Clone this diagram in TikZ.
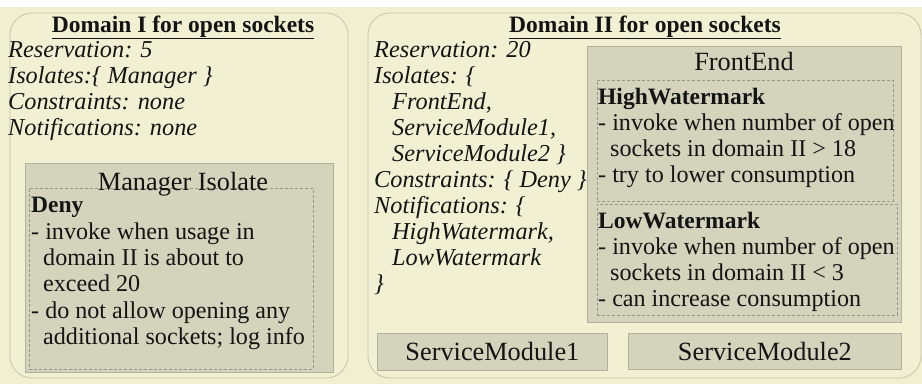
\documentclass[tikz,border=0pt]{standalone}
\usepackage{fontspec}
\setmainfont{Liberation Serif}
\definecolor{bgc}{RGB}{240,239,208}
\definecolor{panelc}{RGB}{241,240,211}
\definecolor{paneledge}{RGB}{196,196,176}
\definecolor{boxc}{RGB}{212,211,188}
\definecolor{boxedge}{RGB}{178,177,156}
\definecolor{dashc}{RGB}{150,150,140}
\definecolor{inkc}{RGB}{20,20,20}
\newcommand\mystrut{\rule{0pt}{22pt}}
\begin{document}
\begin{tikzpicture}[x=1pt,y=-1pt,
  panel/.style={draw=paneledge, fill=panelc, line width=0.8pt, rounded corners=22pt},
  isobox/.style={draw=boxedge, fill=boxc, line width=0.8pt, inner sep=0pt, anchor=north west},
  dashbox/.style={draw=dashc, dash pattern=on 3pt off 2pt, line width=0.6pt, inner sep=0pt, anchor=north west},
  ttl/.style={font=\fontsize{23.5}{26}\selectfont\bfseries, text=inkc, inner sep=0pt, anchor=base},
  itx/.style={font=\fontsize{24.3}{26}\selectfont\itshape, text=inkc, inner sep=0pt, align=left, anchor=north west},
  lbl/.style={font=\fontsize{26.3}{28}\selectfont, text=inkc, inner sep=0pt, anchor=base},
  hdr/.style={font=\fontsize{23.5}{26}\selectfont\bfseries, text=inkc, inner sep=0pt, anchor=base west},
  body/.style={font=\fontsize{24.1}{26.3}\selectfont, text=inkc, inner sep=0pt, align=left, anchor=north west}
]
\useasboundingbox (0,0) rectangle (922,384);
\fill[white] (0,0) rectangle (922,384);
\fill[bgc] (0,7) rectangle (922,384);

% panels
\path[panel] (10,13) rectangle (348,378);
\path[panel] (368,13) rectangle (921,378);

% Domain I
\node[ttl] (t1) at (183,32) {\underline{Domain I for open sockets}};
\node[itx] (d1) at (8,35) {\mystrut Reservation: 5\\Isolates:\{ Manager \}\\Constraints: none\\Notifications: none};

\node[isobox, minimum width=308pt, minimum height=209pt] (mgr) at (25,163) {};
\node[dashbox, minimum width=284pt, minimum height=181pt] (deny) at (29,188) {};
\node[lbl] (mgrt) at (183,190) {Manager Isolate};
\node[hdr] (denyh) at (31,212) {Deny};
\node[body] (denyb) at (31,217) {\mystrut - invoke when usage in\\\hspace*{12pt}domain II is about to\\\hspace*{12pt}exceed 20\\- do not allow opening any\\\hspace*{12pt}additional sockets; log info};

% Domain II
\node[ttl] (t2) at (645,32) {\underline{Domain II for open sockets}};
\node[itx] (d2) at (374,35) {\mystrut Reservation: 20\\Isolates: \{\\\hspace*{18pt}FrontEnd,\\\hspace*{18pt}ServiceModule1,\\\hspace*{18pt}ServiceModule2 \}\\Constraints: \{ Deny \}\\Notifications: \{\\\hspace*{18pt}HighWatermark,\\\hspace*{18pt}LowWatermark\\\}};

\node[isobox, minimum width=314pt, minimum height=276pt] (fe) at (587,46) {};
\node[lbl] (fet) at (744,70) {FrontEnd};
\node[dashbox, minimum width=296pt, minimum height=121pt] (high) at (597,80) {};
\node[hdr] (highh) at (598,104) {HighWatermark};
\node[body] (highb) at (598,108) {\mystrut - invoke when number of open\\\hspace*{12pt}sockets in domain II > 18\\- try to lower consumption};
\node[dashbox, minimum width=300pt, minimum height=111pt] (low) at (597,204) {};
\node[hdr] (lowh) at (598,228) {LowWatermark};
\node[body] (lowb) at (598,232) {\mystrut - invoke when number of open\\\hspace*{12pt}sockets in domain II < 3\\- can increase consumption};

\node[isobox, minimum width=230pt, minimum height=37pt] (sm1) at (377,333) {};
\node[lbl] at (sm1.center) [yshift=-9pt] (sm1t) {ServiceModule1};
\node[isobox, minimum width=273pt, minimum height=36pt] (sm2) at (628,333) {};
\node[lbl] at (sm2.center) [yshift=-9pt] (sm2t) {ServiceModule2};
\end{tikzpicture}
\end{document}
